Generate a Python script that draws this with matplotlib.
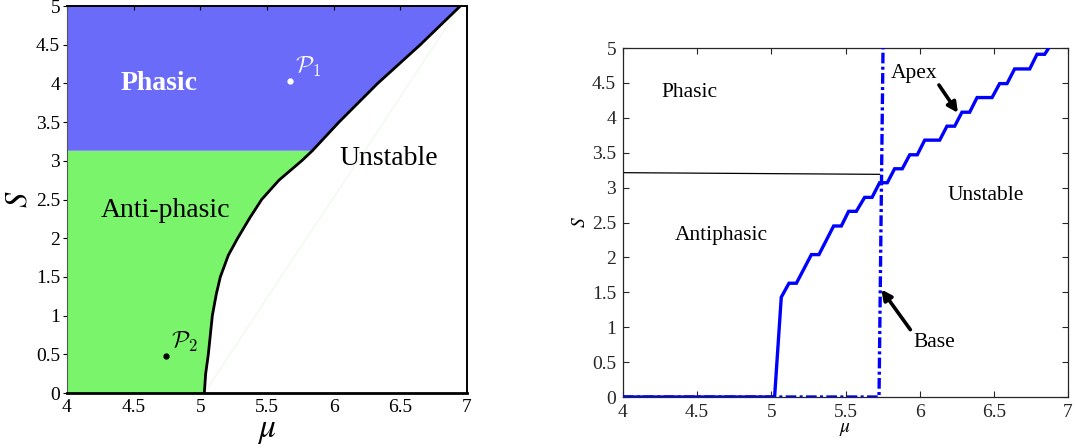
"""
Phase diagrams in the (mu, S) plane: stability regions (left) and
apex / base instability thresholds (right).
"""

import matplotlib
matplotlib.use("Agg")
import matplotlib.pyplot as plt

plt.rcParams["font.family"] = ["Liberation Serif", "DejaVu Serif"]
plt.rcParams["mathtext.fontset"] = "stix"

# Left panel: stability boundary S(mu) and phasic / anti-phasic split
bound_mu = [5.03, 5.04, 5.06, 5.09, 5.12, 5.15, 5.21, 5.28, 5.37, 5.46, 5.59, 5.76,
            5.84, 6.04, 6.33, 6.65, 6.95]
bound_S  = [0.00, 0.25, 0.50, 1.00, 1.28, 1.50, 1.78, 2.00, 2.26, 2.50, 2.75, 3.00,
            3.13, 3.50, 4.00, 4.50, 5.00]
split_idx = 12          # boundary point where phasic meets anti-phasic (S = 3.13)
p1 = (5.67, 4.03)
p2 = (4.74, 0.48)

# Right panel: apex (solid staircase) and base (dash-dot) thresholds
apex_mu = [4.00, 5.022, 5.067, 5.119, 5.169, 5.270, 5.321, 5.420, 5.472, 5.521, 5.573,
           5.629, 5.679, 5.730, 5.782, 5.831, 5.883, 5.933, 5.984, 6.034, 6.135,
           6.184, 6.236, 6.285, 6.337, 6.387, 6.488, 6.539, 6.589, 6.640, 6.742,
           6.791, 6.843, 6.870]
apex_S  = [0.00, 0.00, 1.43, 1.63, 1.63, 2.04, 2.04, 2.45, 2.45, 2.66, 2.66,
           2.86, 2.86, 3.07, 3.07, 3.27, 3.27, 3.47, 3.47, 3.68, 3.68,
           3.88, 3.88, 4.08, 4.08, 4.29, 4.29, 4.49, 4.49, 4.70, 4.70,
           4.91, 4.91, 5.00]
base_mu = [4.00, 5.726, 5.753]
base_S  = [0.00, 0.00, 5.00]
split_mu = [4.00, 5.73]
split_S  = [3.214, 3.19]

ticks_mu = [4, 4.5, 5, 5.5, 6, 6.5, 7]
ticks_S = [0, 0.5, 1, 1.5, 2, 2.5, 3, 3.5, 4, 4.5, 5]
tick_lbl = lambda v: f"{v:g}"

BLUE_FILL = "#6b6bfa"
GREEN_FILL = "#7af46b"
MATLAB_GRAY = "#262626"

fig = plt.figure(figsize=(10.75, 4.48), dpi=100)
axL = fig.add_axes([67 / 1075, 55 / 448, 400 / 1075, 387 / 448])
axR = fig.add_axes([623 / 1075, 51 / 448, 445 / 1075, 349 / 448])

# ---- left: filled regions ----
ax = axL
lo = split_idx
green_x = [4.0] + bound_mu[:lo + 1] + [4.0]
green_y = [0.0] + bound_S[:lo + 1] + [bound_S[lo]]
blue_x = [4.0] + bound_mu[lo:] + [4.0]
blue_y = [bound_S[lo]] + bound_S[lo:] + [5.0]
ax.fill(green_x, green_y, color=GREEN_FILL, lw=0, zorder=1)
ax.fill(blue_x, blue_y, color=BLUE_FILL, lw=0, zorder=1)
ax.plot([bound_mu[0], bound_mu[-1]], [bound_S[0], bound_S[-1]],
        color="#e2f6de", lw=0.5, zorder=1.5)
ax.plot(bound_mu, bound_S, color="black", lw=2.0, zorder=3,
        solid_capstyle="round", solid_joinstyle="round")

ax.plot(*p1, "o", color="white", ms=3.5, zorder=4)
ax.text(p1[0] + 0.04, p1[1] + 0.03, r"$\mathcal{P}_1$", color="white",
        fontsize=17, math_fontfamily="cm", va="bottom", ha="left")
ax.plot(*p2, "o", color="black", ms=3.5, zorder=4)
ax.text(p2[0] + 0.04, p2[1] + 0.03, r"$\mathcal{P}_2$", color="black",
        fontsize=17, math_fontfamily="cm", va="bottom", ha="left")

ax.text(4.69, 4.0, "Phasic", color="white", fontsize=20, fontweight="bold",
        ha="center", va="center")
ax.text(4.74, 2.36, "Anti-phasic", color="black", fontsize=20, ha="center", va="center")
ax.text(6.41, 3.03, "Unstable", color="black", fontsize=20, ha="center", va="center")

ax.set_xlim(4, 7)
ax.set_ylim(0, 5)
ax.set_xticks(ticks_mu)
ax.set_xticklabels([tick_lbl(v) for v in ticks_mu])
ax.set_yticks(ticks_S)
ax.set_yticklabels([tick_lbl(v) for v in ticks_S])
ax.tick_params(axis="both", labelsize=14, length=3, width=0.8, pad=2)
ax.tick_params(axis="x", direction="in", bottom=False, top=True, pad=4)
ax.tick_params(axis="y", direction="out")
ax.spines["left"].set_color("#555555")
ax.spines["left"].set_linewidth(0.8)
ax.spines["bottom"].set_linewidth(2.0)
ax.spines["top"].set_linewidth(1.4)
ax.spines["right"].set_linewidth(1.4)
ax.set_xlabel(r"$\mu$", fontsize=24, labelpad=0)
ax.set_ylabel(r"$S$", fontsize=22, labelpad=2)

# ---- right: threshold curves ----
ax = axR
ax.plot(split_mu, split_S, color="black", lw=0.9, zorder=2)
ax.plot(base_mu, base_S, color="#0000ff", lw=2.4, linestyle=(0, (3.2, 1.0, 0.9, 1.0)),
        zorder=3)
ax.plot(apex_mu, apex_S, color="#0000ff", lw=2.4, zorder=4, solid_joinstyle="miter")

ax.text(4.45, 4.36, "Phasic", fontsize=15.5, ha="center", va="center")
ax.text(4.663, 2.31, "Antiphasic", fontsize=15.5, ha="center", va="center")
ax.text(6.443, 2.88, "Unstable", fontsize=15.5, ha="center", va="center")
ax.text(5.96, 4.64, "Apex", fontsize=15.5, ha="center", va="center")
ax.text(6.10, 0.78, "Base", fontsize=15.5, ha="center", va="center")

arrow = dict(arrowstyle="-|>", color="black", lw=2.6, mutation_scale=15,
             shrinkA=0, shrinkB=0)
ax.annotate("", xy=(6.258, 4.07), xytext=(6.13, 4.47), arrowprops=arrow, zorder=5)
ax.annotate("", xy=(5.742, 1.54), xytext=(5.937, 0.965), arrowprops=arrow, zorder=5)

ax.set_xlim(4, 7)
ax.set_ylim(0, 5)
ax.set_xticks(ticks_mu)
ax.set_xticklabels([tick_lbl(v) for v in ticks_mu])
ax.set_yticks(ticks_S)
ax.set_yticklabels([tick_lbl(v) for v in ticks_S])
ax.tick_params(axis="both", direction="in", length=4, width=0.8, labelsize=14,
               colors=MATLAB_GRAY, top=True, right=True, pad=5)
for side in ax.spines.values():
    side.set_color(MATLAB_GRAY)
    side.set_linewidth(0.9)
ax.set_xlabel(r"$\mu$", fontsize=14, labelpad=0)
ax.set_ylabel(r"$S$", fontsize=14, labelpad=2)

plt.savefig("out.png", dpi=100)
print("Saved out.png")
